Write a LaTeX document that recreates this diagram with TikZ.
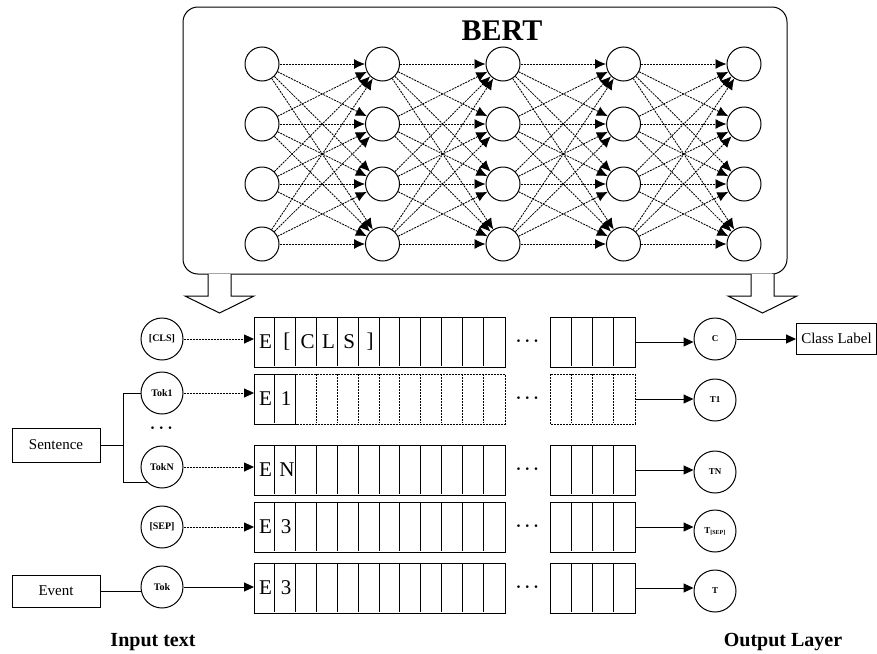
\documentclass[tikz,border=0pt]{standalone}
\usepackage{amsmath}
\usepackage{fontspec}
\setmainfont{Liberation Serif}
\usetikzlibrary{arrows.meta,calc}

\begin{document}
\begin{tikzpicture}[x=1pt,y=-1pt,line width=1pt,
  neuron/.style={circle,draw,minimum size=34pt,inner sep=0pt},
  tokc/.style={circle,draw,minimum size=42pt,inner sep=0pt,font=\bfseries\fontsize{10}{11}\selectfont},
  outc/.style={circle,draw,minimum size=42pt,inner sep=0pt,font=\bfseries\fontsize{9}{10}\selectfont},
  lbl/.style={draw,inner sep=0pt,font=\fontsize{15}{17}\selectfont},
  grp/.style={minimum height=49pt,inner sep=0pt,anchor=north west},
  dots/.style={dash pattern=on 2pt off 1pt,line width=0.85pt},
  tip/.style={-{Triangle[length=10pt,width=9pt]}},
  ntip/.style={-{Latex[length=11pt,width=10pt]}},
  big/.style={font=\fontsize{21}{23}\selectfont,inner sep=0pt},
  ell/.style={font=\fontsize{19}{19}\selectfont,inner sep=0pt},
  title/.style={font=\bfseries\fontsize{20}{22}\selectfont}
]
\useasboundingbox (0,0) rectangle (877,653);

% ---------- BERT block ----------
\node (bert) [draw,rounded corners=15pt,minimum width=604pt,minimum height=267pt,inner sep=0pt] at (485,140.5) {};
\node (bertlbl) [font=\bfseries\fontsize{30}{32}\selectfont] at (502,31) {BERT};

\foreach \c [count=\i] in {262,382.5,503,623.5,744}
  \foreach \r [count=\j] in {64,124,184,244}
    \node[neuron] (n\i\j) at (\c,\r) {};

\foreach \i/\k in {1/2,2/3,3/4,4/5}
  \foreach \j in {1,...,4}
    \foreach \l in {1,...,4}
      \draw[dots,ntip] (n\i\j) -- (n\k\l);

% ---------- hollow arrows below the block ----------
\draw[fill=white] (208,274) -- (208,296) -- (185,296) -- (219.5,313) -- (254,296) -- (231,296) -- (231,274);
\draw[fill=white] (751,274) -- (751,296) -- (728,296) -- (762.5,313) -- (797,296) -- (774,296) -- (774,274);

% ---------- embedding rows ----------
\foreach \y [count=\r] in {317,374,445,502,563} {
  \node[grp,minimum width=250pt] (g\r a) at (254,\y) {};
  \node[grp,minimum width=84pt] (g\r b) at (550,\y) {};
  \node[ell] (d\r) at (529,\y+24.5) {$\boldsymbol{\cdots}$};
}

% solid rows
\foreach \r in {1,3,4,5} {
  \draw (g\r a.north west) rectangle (g\r a.south east);
  \draw (g\r b.north west) rectangle (g\r b.south east);
  \foreach \k in {1,...,11}
    \draw ($(g\r a.north west)+(\k*20.8333,0)$) -- ++(0,49);
  \foreach \k in {1,2,3}
    \draw ($(g\r b.north west)+(\k*21,0)$) -- ++(0,49);
}

% row with dotted cells
\draw (g2a.north west) rectangle ($(g2a.south west)+(41.667,0)$);
\draw ($(g2a.north west)+(20.8333,0)$) -- ++(0,49);
\draw[dots] ($(g2a.north west)+(41.667,0)$) -- (g2a.north east) -- (g2a.south east) -- ($(g2a.south west)+(41.667,0)$);
\foreach \k in {3,...,11}
  \draw[dots] ($(g2a.north west)+(\k*20.8333,0)$) -- ++(0,49);
\draw[dots] (g2b.north west) rectangle (g2b.south east);
\foreach \k in {1,2,3}
  \draw[dots] ($(g2b.north west)+(\k*21,0)$) -- ++(0,49);

% letters in the first cells
\foreach \r/\t in {1/E,2/E,3/E,4/E,5/E}
  \node[big] at ($(g\r a.west)+(11.5,0)$) {\t};
\foreach \t [count=\k from 2] in {[,C,L,S,]}
  \node[big] at ($(g1a.west)+(\k*20.8333-10.4+1.5,0)$) {\t};
\node[big] at ($(g2a.west)+(32,0)$) {1};
\node[big] at ($(g3a.west)+(33,0)$) {N};
\node[big] at ($(g4a.west)+(32,0)$) {3};
\node[big] at ($(g5a.west)+(32,0)$) {3};

% ---------- input side ----------
\node[tokc] (cls) at (162,339) {[CLS]};
\node[tokc] (tok1) at (162,393) {Tok1};
\node[ell] (vd) at (163,428) {$\boldsymbol{\cdots}$};
\node[tokc] (tokN) at (162,467) {TokN};
\node[tokc] (sep) at (162,527) {[SEP]};
\node[tokc] (tok) at (162,587) {Tok};

\node[lbl,minimum width=88pt,minimum height=34pt] (sent) at (56,445) {Sentence};
\node[lbl,minimum width=88pt,minimum height=32pt] (event) at (56,591) {Event};

\coordinate (jn) at (123,445);
\draw (sent.east) -- (jn);
\draw (jn) |- (tok1.west);
\draw (jn) |- (tokN.225);
\draw (event.east) -- (event.east -| tok.west);

\draw[dots,tip] (cls.east) -- (cls.east -| g1a.west);
\draw[dots,tip] (tok1.east) -- (tok1.east -| g2a.west);
\draw[dots,tip] (tokN.east) -- (tokN.east -| g3a.west);
\draw[dots,tip] (sep.east) -- (sep.east -| g4a.west);
\draw[tip] (tok.east) -- (tok.east -| g5a.west);

% ---------- output side ----------
\node[outc] (oc) at (715,339) {C};
\node[outc] (o1) at (715,400) {T1};
\node[outc] (oN) at (715,472) {TN};
\node[outc] (os) at (715,531) {T\textsubscript{[SEP]}};
\node[outc] (ot) at (715,591) {T};

\draw[tip] (g1b.east) -- (g1b.east -| oc.west);
\draw[tip] (g2b.east) -- (g2b.east -| o1.west);
\draw[tip] (g3b.east) -- (g3b.east -| oN.west);
\draw[tip] (g4b.east) -- (g4b.east -| os.west);
\draw[tip] (g5b.east) -- (g5b.east -| ot.west);

\node[lbl,minimum width=80pt,minimum height=31pt] (cl) at (836.5,338.5) {Class Label};
\draw[tip] (oc.east) -- (oc.east -| cl.west);

% ---------- captions ----------
\node[title] (intext) at (153,642) {Input text};
\node[title] (outlay) at (783,642) {Output Layer};
\end{tikzpicture}
\end{document}
